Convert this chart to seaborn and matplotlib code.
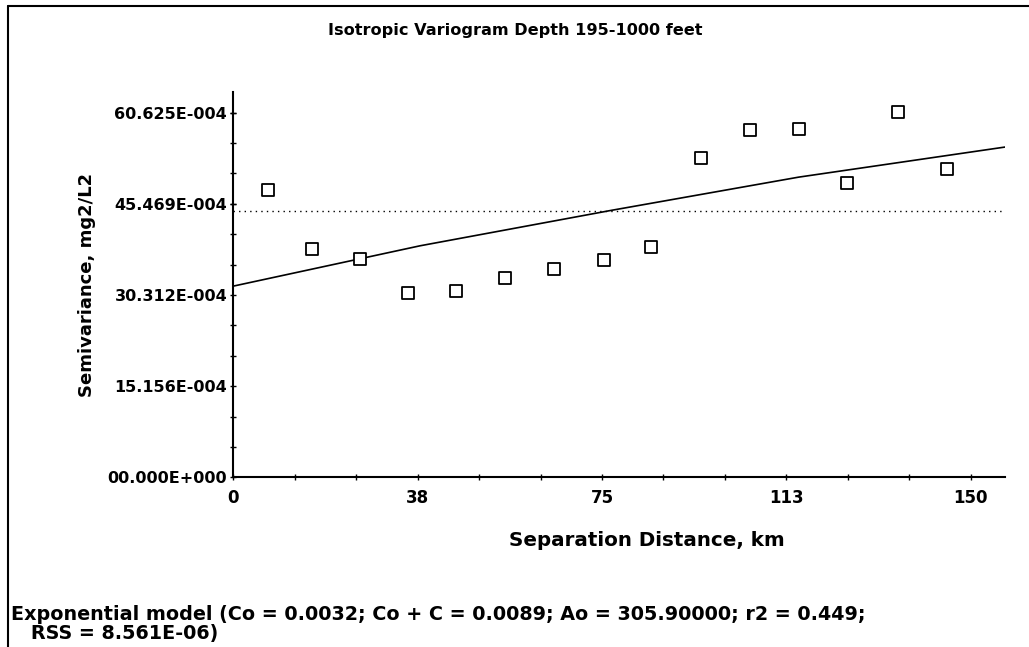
import numpy as np
import pandas as pd
import seaborn as sns
import matplotlib.pyplot as plt
from matplotlib.lines import Line2D
from matplotlib.ticker import MultipleLocator

# dane (semiwariancja w jednostkach 1E-004)
lag_km = [7.1, 15.9, 25.7, 35.6, 45.2, 55.2, 65.2, 75.3, 85.0, 95.1,
          105.1, 115.1, 124.9, 135.2, 145.1]
semivar_e4 = [47.7, 38.0, 36.3, 30.6, 31.0, 33.1, 34.6, 36.2, 38.3, 53.1,
              57.8, 57.9, 49.0, 60.8, 51.3]

# krzywa modelu
model_km = [0, 38, 77, 115, 157]
model_e4 = [31.8, 38.5, 44.4, 49.9, 54.9]

sample_var_e4 = 44.35

x_ticks = [0, 37.5, 75, 112.5, 150]
x_ticklabels = ['0', '38', '75', '113', '150']
y_ticks_e4 = [0, 15.156, 30.312, 45.469, 60.625]
y_ticklabels = ['00.000E+000', '15.156E-004', '30.312E-004', '45.469E-004', '60.625E-004']

title = 'Isotropic Variogram Depth 195-1000 feet'
footer = ('Exponential model (Co = 0.0032; Co + C = 0.0089; Ao = 305.90000; r2 = 0.449;\n'
          '   RSS = 8.561E-06)')

sns.set_style("ticks")
plt.rcParams['font.family'] = ['DejaVu Sans']
plt.rcParams['font.weight'] = 'bold'
plt.rcParams['text.color'] = 'black'
plt.rcParams['axes.labelcolor'] = 'black'
plt.rcParams['xtick.color'] = 'black'
plt.rcParams['ytick.color'] = 'black'

df = pd.DataFrame({'lag': lag_km, 'gamma': np.array(semivar_e4) * 1e-4})
df_model = pd.DataFrame({'lag': model_km, 'gamma': np.array(model_e4) * 1e-4})

fig = plt.figure(figsize=(10.29, 6.47), dpi=100)
ax = fig.add_axes([0.2269, 0.2620, 0.7498, 0.5963])

ax.axhline(sample_var_e4 * 1e-4, color='black', lw=1.0, ls=(0, (1, 3)))
sns.lineplot(data=df_model, x='lag', y='gamma', color='black', lw=1.2, ax=ax)
sns.scatterplot(data=df, x='lag', y='gamma', marker='s', s=70, facecolor='white',
                edgecolor='black', linewidth=1.3, ax=ax, zorder=5)

ax.set_xlim(0, 157)
ax.set_ylim(0, 64.1e-4)
ax.set_xticks(x_ticks)
ax.set_xticklabels(x_ticklabels, fontsize=12, fontweight='bold')
ax.set_yticks(np.array(y_ticks_e4) * 1e-4)
ax.set_yticklabels(y_ticklabels, fontsize=11.5, fontweight='bold')
ax.xaxis.set_minor_locator(MultipleLocator(12.5))
ax.yaxis.set_minor_locator(MultipleLocator(15.156e-4 / 3))
ax.tick_params(which='both', direction='inout', length=5, width=1, color='black',
               bottom=True, left=True)
ax.tick_params(axis='x', which='major', pad=6)
ax.tick_params(axis='y', which='major', pad=2)

for s in ['top', 'right']:
    ax.spines[s].set_visible(False)
for s in ['left', 'bottom']:
    ax.spines[s].set_color('black')
    ax.spines[s].set_linewidth(1.5)

ax.set_xlabel('Separation Distance, km', fontsize=14.3, fontweight='bold')
ax.xaxis.set_label_coords(0.536, -0.140)
ax.set_ylabel('Semivariance, mg2/L2', fontsize=13, fontweight='bold', labelpad=8)
fig.text(0.5005, 1 - 30 / 647, title, ha='center', va='center', fontsize=11.6, fontweight='bold')
fig.text(0.011, 1 - 624 / 647, footer, ha='left', va='center', fontsize=13.8,
         fontweight='bold', linespacing=0.95)

# ramka okna
fig.add_artist(Line2D([8 / 1029, 1], [1 - 6 / 647] * 2, color='black', lw=1.5))
fig.add_artist(Line2D([8 / 1029] * 2, [0, 1 - 6 / 647], color='black', lw=1.5))

fig.savefig('out.png', dpi=100, facecolor='white')
